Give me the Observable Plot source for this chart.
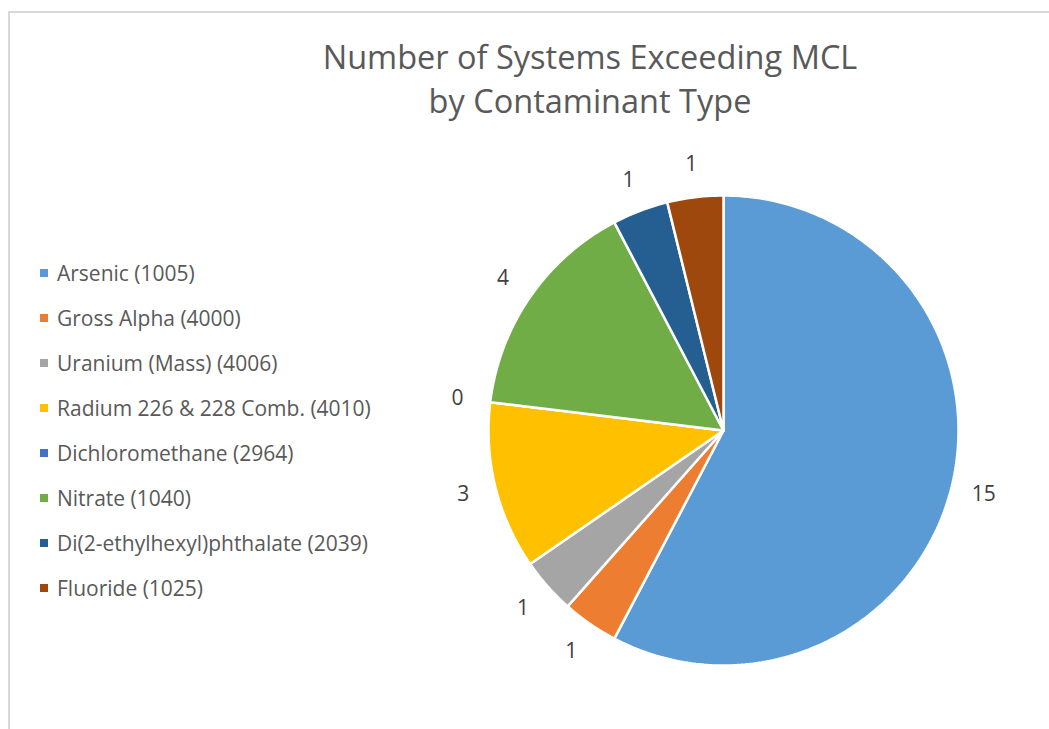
<!DOCTYPE html>
<html>
<head>
<meta charset="utf-8">
<script src="https://cdn.jsdelivr.net/npm/d3@7"></script>
<script src="https://cdn.jsdelivr.net/npm/@observablehq/plot@0.6"></script>
<style>
  html, body { margin: 0; padding: 0; background: #fff; }
  #wrap { position: relative; width: 1049px; height: 729px; overflow: hidden; font-family: "Open Sans", sans-serif; }
  #border { position: absolute; left: 8px; top: 11px; width: 1100px; height: 800px; border-left: 2px solid #d9d9d9; border-top: 2px solid #d9d9d9; box-sizing: border-box; }
  #chart { position: absolute; left: 0; top: 0; }
  #title { position: absolute; left: 590px; top: 35px; transform: translateX(-50%); white-space: nowrap; text-align: center; color: #595959; font-size: 32.5px; line-height: 44px; }
  #legend { position: absolute; left: 40px; top: 250px; color: #595959; font-size: 21px; }
  .row { height: 45px; display: flex; align-items: center; white-space: nowrap; }
  .sw { width: 8px; height: 8px; margin-right: 9px; flex: none; }
</style>
</head>
<body>
<div id="wrap">
  <div id="border"></div>
  <div id="chart"></div>
  <div id="title">Number of Systems Exceeding MCL<br>by Contaminant Type</div>
  <div id="legend"></div>
</div>
<script>
const categories = [
  "Arsenic (1005)",
  "Gross Alpha (4000)",
  "Uranium (Mass) (4006)",
  "Radium 226 & 228 Comb. (4010)",
  "Dichloromethane (2964)",
  "Nitrate (1040)",
  "Di(2-ethylhexyl)phthalate (2039)",
  "Fluoride (1025)"
];
const values = [15, 1, 1, 3, 0, 4, 1, 1];
const colors = ["#5B9BD5", "#ED7D31", "#A5A5A5", "#FFC000", "#4472C4", "#70AD47", "#255E91", "#9E480E"];

const W = 1049, H = 729;
const cx = 723, cy = 430, r = 235;
const labelR = 268 / r;

const data = categories.map((c, i) => ({category: c, value: values[i], color: colors[i]}));
const arcs = d3.pie().sort(null).value(d => d.value)(data);

// outline points of each slice, derived from the pie angles
const slicePts = [];
arcs.forEach((a, i) => {
  const n = Math.max(2, Math.ceil((a.endAngle - a.startAngle) / (Math.PI / 180)));
  slicePts.push({k: i, x: 0, y: 0, color: colors[i]});
  for (let j = 0; j <= n; j++) {
    const t = a.startAngle + (a.endAngle - a.startAngle) * j / n;
    slicePts.push({k: i, x: Math.sin(t), y: Math.cos(t), color: colors[i]});
  }
  slicePts.push({k: i, x: 0, y: 0, color: colors[i]});
});

const labels = arcs.map((a, i) => {
  const m = (a.startAngle + a.endAngle) / 2;
  return {x: labelR * Math.sin(m), y: labelR * Math.cos(m), text: String(values[i])};
});

const plot = Plot.plot({
  width: W,
  height: H,
  margin: 0,
  x: {type: "linear", domain: [-1, 1], range: [cx - r, cx + r], axis: null},
  y: {type: "linear", domain: [-1, 1], range: [cy + r, cy - r], axis: null},
  style: {background: "transparent", overflow: "visible"},
  marks: [
    Plot.line(slicePts, {x: "x", y: "y", z: "k", fill: "color", stroke: "white", strokeWidth: 2.5, strokeLinejoin: "miter", curve: "linear"}),
    Plot.text(labels, {x: "x", y: "y", text: "text", fill: "#404040", fontSize: 21, fontFamily: "Open Sans", textAnchor: "middle", lineAnchor: "middle"})
  ]
});
document.getElementById("chart").appendChild(plot);

const legend = document.getElementById("legend");
categories.forEach((c, i) => {
  const row = document.createElement("div");
  row.className = "row";
  const sw = document.createElement("span");
  sw.className = "sw";
  sw.style.background = colors[i];
  const tx = document.createElement("span");
  tx.textContent = c;
  row.appendChild(sw);
  row.appendChild(tx);
  legend.appendChild(row);
});
</script>
</body>
</html>
